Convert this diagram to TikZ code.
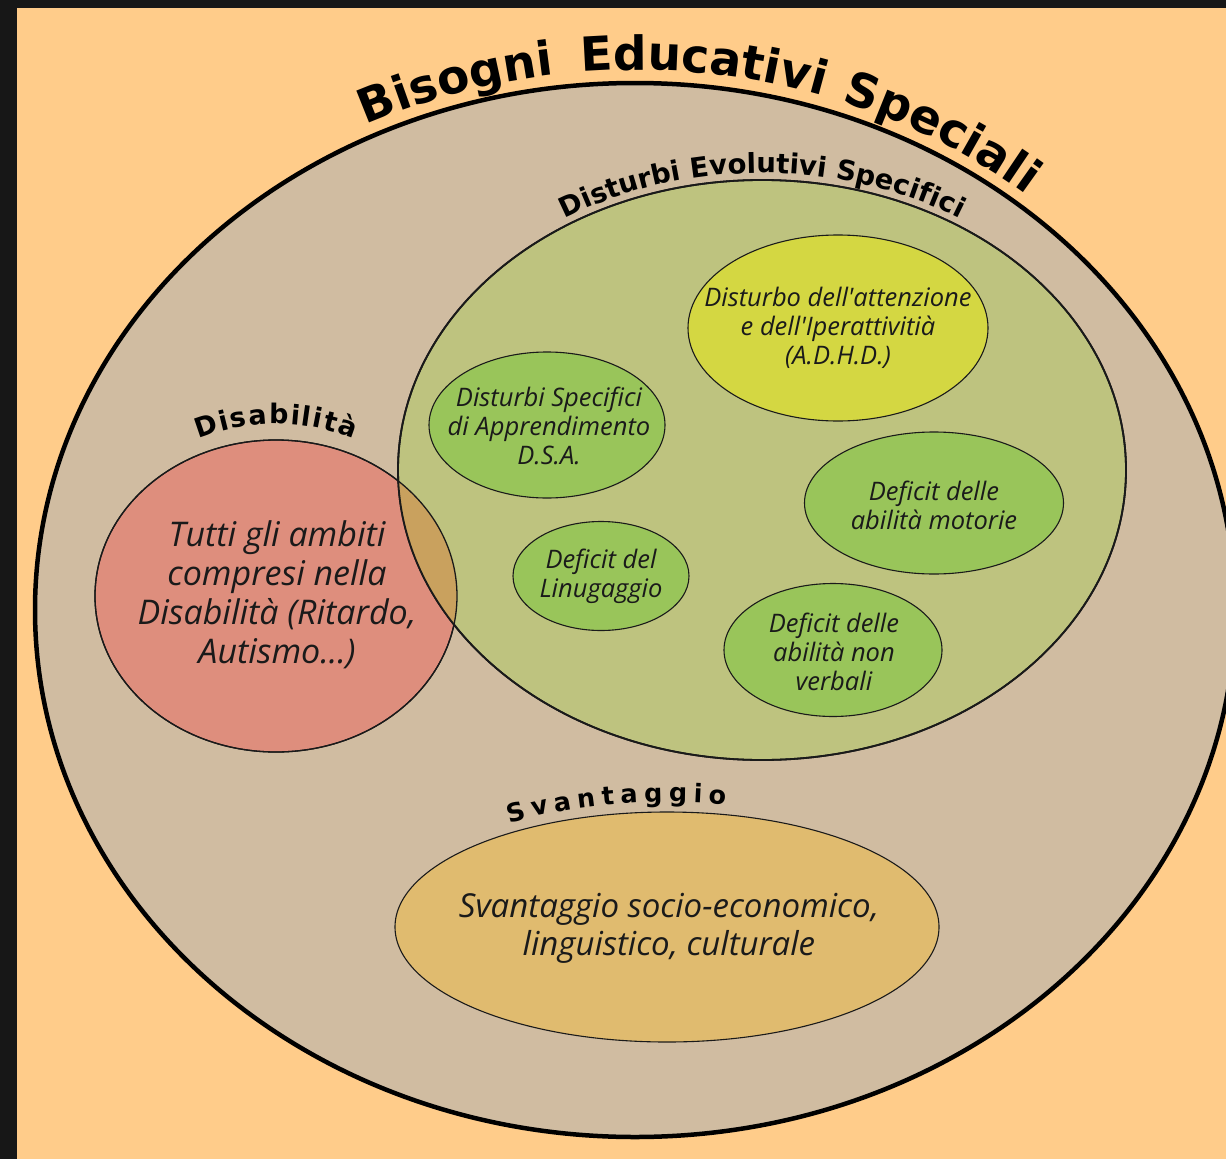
\documentclass[tikz,border=0pt]{standalone}
\usepackage{fontspec}
\setmainfont{Open Sans}
\newfontfamily\headfont{DejaVu Sans}
\usetikzlibrary{shapes.geometric,decorations.text}

\definecolor{bgorange}{HTML}{FFCC8A}
\definecolor{framedark}{HTML}{171717}
\definecolor{besfill}{HTML}{D0BCA1}
\definecolor{desfill}{HTML}{BEC37F}
\definecolor{adhdfill}{HTML}{D4D742}
\definecolor{smallgreen}{HTML}{99C55A}
\definecolor{disfill}{HTML}{DE8E7D}
\definecolor{overlapfill}{HTML}{C9A15E}
\definecolor{svfill}{HTML}{E0BB6F}
\definecolor{ink}{HTML}{1A1A1A}

\tikzset{
  blob/.style={ellipse, draw=ink, line width=1.1pt, inner sep=0pt},
  greenblob/.style={blob, fill=smallgreen},
  smalltext/.style={align=center, text=ink, inner sep=0pt, font=\itshape\fontsize{25.5}{29}\selectfont},
  bigtext/.style={align=center, text=ink, inner sep=0pt, font=\itshape\fontsize{34}{39}\selectfont},
  curved/.style={decorate, decoration={text along path, text align=center, text={#1}}},
  curvedfit/.style={decorate, decoration={text along path, text align={fit to path}, text={#1}}}
}

\begin{document}
\begin{tikzpicture}[x=1pt,y=1pt]
\useasboundingbox (0,0) rectangle (1226,-1159);
\fill[framedark] (0,0) rectangle (1226,-1159);
\fill[bgorange] (17,-8) rectangle (1226,-1159);

\begin{scope}
\clip (17,-8) rectangle (1226,-1159);

% outer ellipse
\node[ellipse, draw=black, line width=4.5pt, fill=besfill, inner sep=0pt,
      minimum width=1200pt, minimum height=1054pt] (bes) at (635,-610) {};

% Disabilita circle
\node[blob, fill=disfill, line width=1.3pt, minimum width=362pt, minimum height=312pt] (dis) at (276,-596) {};

% Disturbi evolutivi specifici ellipse
\node[blob, fill=desfill, line width=1.8pt, minimum width=728pt, minimum height=580pt] (des) at (762,-470) {};

% overlap
\begin{scope}
  \clip (des.center) ellipse [x radius=364pt, y radius=290pt];
  \fill[overlapfill] (dis.center) ellipse [x radius=181pt, y radius=156pt];
\end{scope}
\draw[ink, line width=1.3pt] (dis.center) ellipse [x radius=181pt, y radius=156pt];
\draw[ink, line width=1.8pt] (des.center) ellipse [x radius=364pt, y radius=290pt];

% inner ellipses
\node[blob, fill=adhdfill, minimum width=300pt, minimum height=186pt] (adhd) at (838,-328) {};
\node[greenblob, minimum width=236pt, minimum height=146pt] (dsa) at (547,-425) {};
\node[greenblob, minimum width=259pt, minimum height=142pt] (mot) at (934,-503) {};
\node[greenblob, minimum width=176pt, minimum height=109pt] (lin) at (601,-576) {};
\node[greenblob, minimum width=218pt, minimum height=133pt] (nv) at (833,-650) {};

% Svantaggio ellipse
\node[blob, fill=svfill, minimum width=544pt, minimum height=230pt] (sv) at (667,-927) {};

% texts inside
\node[bigtext] (dist) at (277,-595) {Tutti gli ambiti\\compresi nella\\Disabilità (Ritardo,\\Autismo...)};
\node[smalltext] (adhdt) at (838,-328) {Disturbo dell\textquotesingle attenzione\\e dell\textquotesingle Iperattivitià\\(A.D.H.D.)};
\node[smalltext] (dsat) at (549,-426) {Disturbi Specifici\\di Apprendimento\\D.S.A.};
\node[smalltext] (mott) at (934,-505) {Deficit delle\\abilità motorie};
\node[smalltext] (lint) at (601,-576) {Deficit del\\Linugaggio};
\node[smalltext] (nvt) at (834,-652) {Deficit delle\\abilità non\\verbali};
\node[bigtext, font=\itshape\fontsize{33}{38}\selectfont] (svt) at (669,-928) {Svantaggio socio-economico,\\linguistico, culturale};

% curved titles
\path[curved={|\headfont\bfseries\fontsize{47}{47}\selectfont|Bisogni}]
  ([shift={(127:612pt and 540pt)}]bes.center) arc[start angle=127, end angle=87, x radius=612pt, y radius=540pt];
\path[curved={|\headfont\bfseries\fontsize{47}{47}\selectfont|Educativi}]
  ([shift={(104:612pt and 540pt)}]bes.center) arc[start angle=104, end angle=63, x radius=612pt, y radius=540pt];
\path[curved={|\headfont\bfseries\fontsize{47}{47}\selectfont|Speciali}]
  ([shift={(80:612pt and 540pt)}]bes.center) arc[start angle=80, end angle=40, x radius=612pt, y radius=540pt];

\path[curved={|\headfont\bfseries\fontsize{27.5}{27.5}\selectfont|Disturbi Evolutivi Specifici}]
  ([shift={(135:371pt and 297pt)}]des.center) arc[start angle=135, end angle=45, x radius=371pt, y radius=297pt];

\path[curvedfit={|\headfont\bfseries\fontsize{27}{27}\selectfont|Disabilità}]
  ([shift={(114:190pt and 172pt)}]dis.center) arc[start angle=114, end angle=66, x radius=190pt, y radius=172pt];

\path[curvedfit={|\headfont\bfseries\fontsize{25.5}{25.5}\selectfont|Svantaggio}]
  ([shift={(124:282pt and 125pt)}]sv.center) arc[start angle=124, end angle=78, x radius=282pt, y radius=125pt];
\end{scope}
\end{tikzpicture}
\end{document}
